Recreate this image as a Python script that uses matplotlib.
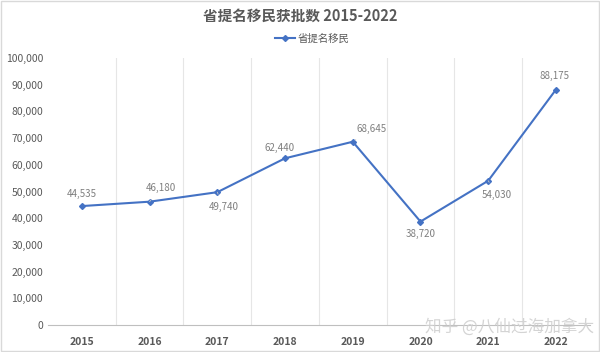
import matplotlib.pyplot as plt
from matplotlib.ticker import FuncFormatter

plt.rcParams['font.family'] = ['Noto Sans CJK SC', 'DejaVu Sans']

# data
years = ["2015", "2016", "2017", "2018", "2019", "2020", "2021", "2022"]
approved = [44535, 46180, 49740, 62440, 68645, 38720, 54030, 88175]
series_name = "省提名移民"

# label offsets in pixels (dx, dy) for each data label, and whether a leader line is drawn
offsets = [(0, 12), (11, 14), (6, -15), (-5, 10), (19, 13), (0, -12), (9, -14), (-1, 14)]
leaders = [False, True, True, False, True, False, True, False]

fig = plt.figure(figsize=(6, 3.52), dpi=100)
ax = fig.add_axes([0.08, 0.077, 0.903, 0.758])

x = list(range(len(years)))
ax.plot(x, approved, color="#4472c4", lw=1.5, marker="D", markersize=3, label=series_name)

for i, v in enumerate(approved):
    dx, dy = offsets[i]
    ax.annotate(f"{v:,}", (i, v), xytext=(dx * 0.72, dy * 0.72), textcoords="offset points",
                ha="center", va="center", fontsize=7, color="#7f7f7f",
                arrowprops=dict(arrowstyle="-", color="#c8c8c8", lw=0.6,
                                shrinkA=4, shrinkB=2) if leaders[i] else None)

ax.set_xlim(-0.5, len(years) - 0.5)
ax.set_ylim(0, 100000)
ax.set_yticks(range(0, 100001, 10000))
ax.yaxis.set_major_formatter(FuncFormatter(lambda v, p: f"{int(v):,}"))
ax.set_xticks(x)
ax.set_xticklabels(years, fontweight="bold")

# vertical gridlines between categories
for b in range(1, len(years)):
    ax.axvline(b - 0.5, color="#e6e6e6", lw=0.8, zorder=0)

for s in ["top", "right", "left"]:
    ax.spines[s].set_visible(False)
ax.spines["bottom"].set_color("#bfbfbf")
ax.tick_params(axis="both", length=0, labelsize=7.5, colors="#595959")
ax.tick_params(axis="x", pad=9)

fig.text(0.5, 0.955, "省提名移民获批数 2015-2022", ha="center", va="center",
         fontsize=10.5, fontweight="bold", color="#595959")
fig.legend(loc="center", bbox_to_anchor=(0.52, 0.89), frameon=False, fontsize=7.5,
           labelcolor="#595959", handlelength=2, handletextpad=0.2)

fig.text(0.99, 0.07, "知乎 @八仙过海加拿大", ha="right", va="center",
         fontsize=12, color="#d0d0d0", alpha=0.9)

fig.patches.append(plt.Rectangle((0.002, 0.002), 0.996, 0.996, transform=fig.transFigure,
                                 fill=False, edgecolor="#d9d9d9", lw=1))

fig.savefig("out.png", dpi=100)
